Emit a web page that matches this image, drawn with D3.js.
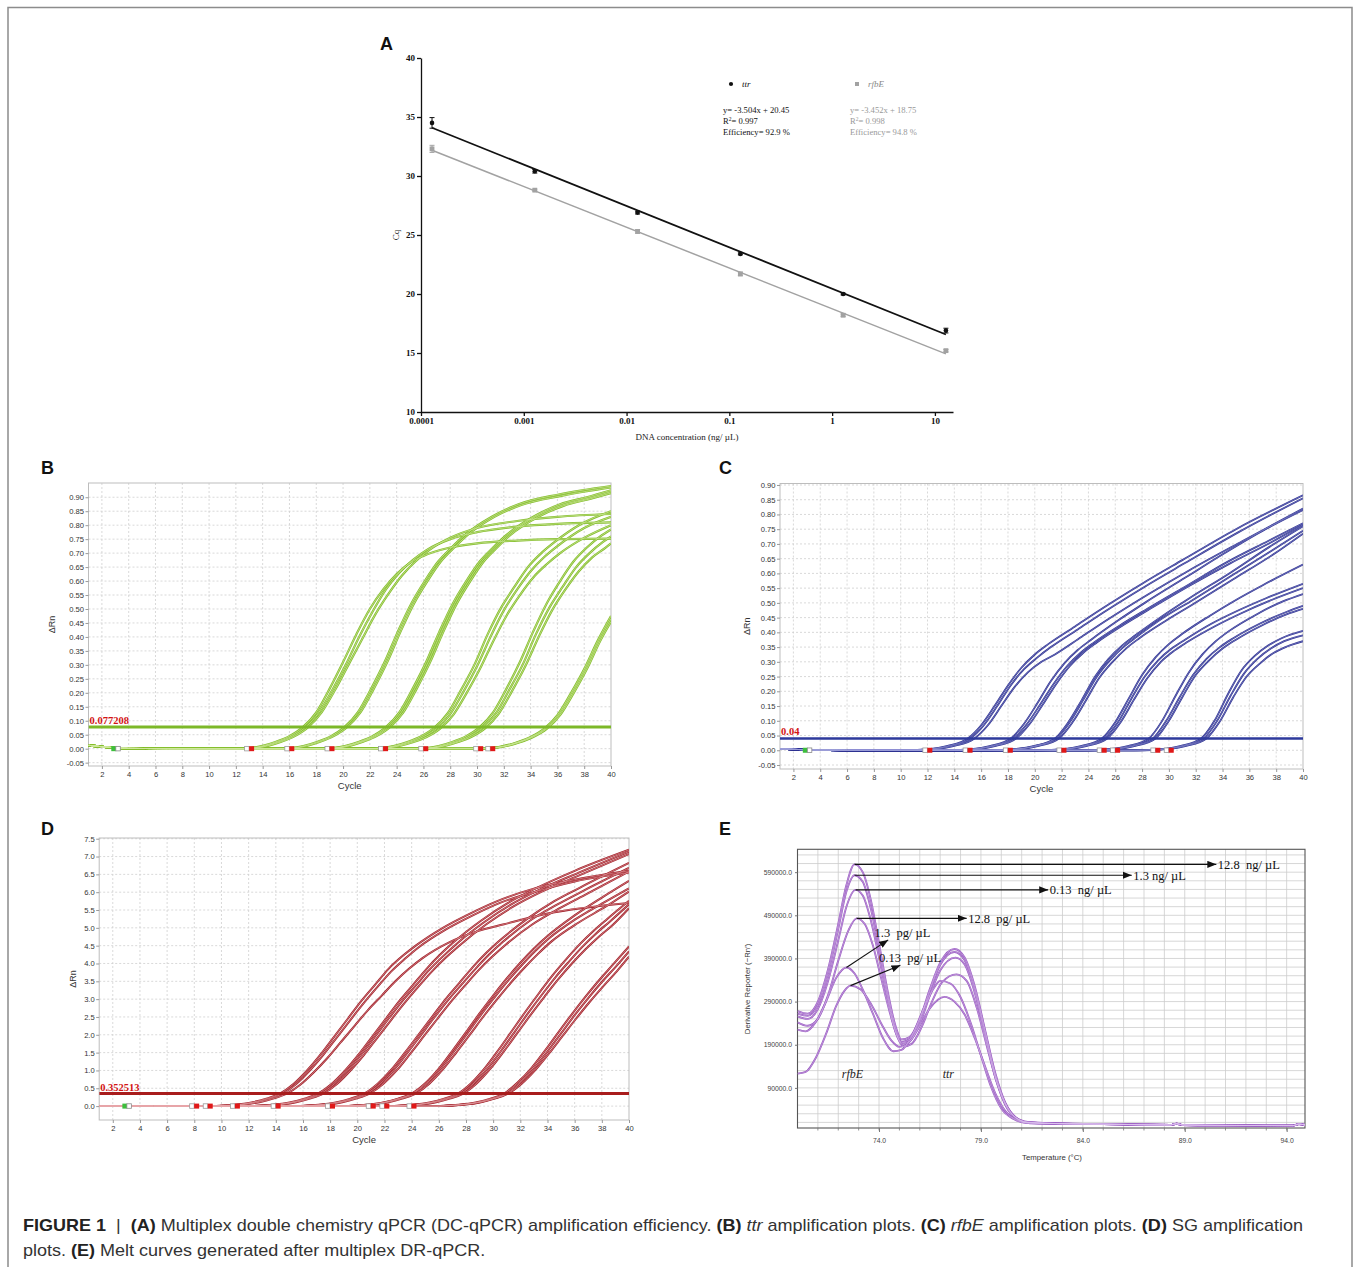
<!DOCTYPE html>
<html><head><meta charset="utf-8">
<script src="https://cdn.jsdelivr.net/npm/d3@7/dist/d3.min.js"></script>
<style>html,body{margin:0;padding:0;background:#fff;}svg{display:block;}</style>
</head><body>
<svg id="fig" width="1356" height="1267"></svg>
<script>
// ================= DATA =================
// ---- Panel A: standard curves ----
const concA = [0.000128, 0.00128, 0.0128, 0.128, 1.28, 12.8];
const cqTtr = [34.5, 30.4, 26.9, 23.4, 20.0, 16.9];
const sdTtr = [0.45, 0.15, 0.12, 0.08, 0.08, 0.2];
const cqRfbE = [32.3, 28.8, 25.3, 21.7, 18.2, 15.2];
const sdRfbE = [0.3, 0.08, 0.15, 0.15, 0.1, 0.1];
const fitSeries = ["ttr", "rfbE"];
const fitSlope = [-3.504, -3.452];
const fitIntercept = [20.45, 18.75];
const fitR2 = ["0.997", "0.998"];
const fitEff = ["92.9", "94.8"];
const aYTicks = [10, 15, 20, 25, 30, 35, 40];
const aXTicks = [0.0001, 0.001, 0.01, 0.1, 1, 10];
const aXTickLabels = ["0.0001", "0.001", "0.01", "0.1", "1", "10"];

// ---- Amplification plots (B, C, D) ----
const cycleTicks = [2,4,6,8,10,12,14,16,18,20,22,24,26,28,30,32,34,36,38,40];
const bcYTicks = [-0.05,0,0.05,0.1,0.15,0.2,0.25,0.3,0.35,0.4,0.45,0.5,0.55,0.6,0.65,0.7,0.75,0.8,0.85,0.9];
const dYTicks = [0,0.5,1,1.5,2,2.5,3,3.5,4,4.5,5,5.5,6,6.5,7,7.5];

const thrTtr = 0.077208, thrTtrLabel = "0.077208";
const thrRfbE = 0.04, thrRfbELabel = "0.04";
const thrSG = 0.352513, thrSGLabel = "0.352513";

const markersTtr = [13.1, 16.1, 19.1, 23.1, 26.1, 30.2, 31.1];
const markersRfbE = [12.1, 15.1, 18.1, 22.1, 25.1, 26.1, 29.1, 30.1];
const markersSG = [8.1, 9.1, 11.1, 14.1, 18.1, 21.1, 22.1, 24.1];
const markerGreen = 3;

// baselines before amplification  [cycle, dRn]
const baseTtr = [[1,0.012],[2,0.007],[4,0.001],[7,0]];
const baseRfbE = [[1,0.005],[2,0.003],[4,0.001],[6,0]];
const baseSG = [[1,0],[5,0]];

// B: ttr amplification curves [cycle, dRn]
const ttrCurves = [
 [[12,0],[13,0.002],[15,0.025],[16,0.045],[17,0.077],[18,0.13],[19,0.215],[20,0.31],[21,0.41],[22,0.5],[23,0.57],[24,0.625],[25,0.665],[26,0.69],[28,0.72],[30,0.735],[33,0.745],[36,0.75],[40,0.752]],
 [[12.2,0],[13.2,0.002],[15.2,0.025],[16.2,0.045],[17.2,0.077],[18.2,0.13],[19.2,0.21],[20.2,0.3],[21.2,0.4],[22.2,0.49],[23.2,0.57],[24.2,0.63],[25.2,0.675],[26.2,0.71],[28,0.75],[30,0.775],[33,0.795],[36,0.805],[40,0.81]],
 [[12.4,0],[13.4,0.002],[15.4,0.025],[16.4,0.045],[17.4,0.077],[18.4,0.13],[19.4,0.21],[20.4,0.3],[21.4,0.39],[22.4,0.48],[23.4,0.555],[24.4,0.62],[25.4,0.67],[26.4,0.71],[28,0.755],[30,0.79],[33,0.815],[36,0.83],[40,0.84]],
 [[15.1,0],[16.1,0.002],[18.1,0.025],[19.1,0.045],[20.1,0.077],[21.1,0.13],[22.1,0.215],[23.1,0.31],[24.1,0.42],[25.1,0.52],[26.1,0.6],[27.1,0.67],[28.1,0.72],[29.1,0.765],[31.1,0.83],[33.1,0.875],[36.1,0.91],[40,0.94]],
 [[15.3,0],[16.3,0.002],[18.3,0.025],[19.3,0.045],[20.3,0.077],[21.3,0.13],[22.3,0.215],[23.3,0.31],[24.3,0.42],[25.3,0.52],[26.3,0.6],[27.3,0.67],[28.3,0.72],[29.3,0.765],[31.3,0.83],[33.3,0.872],[36.3,0.905],[40,0.935]],
 [[18.2,0],[19.2,0.002],[21.2,0.025],[22.2,0.045],[23.2,0.077],[24.2,0.13],[25.2,0.215],[26.2,0.31],[27.2,0.42],[28.2,0.52],[29.2,0.6],[30.2,0.67],[31.2,0.72],[32.2,0.765],[34.2,0.83],[36.2,0.875],[38.2,0.9],[40,0.925]],
 [[18.35,0],[19.35,0.002],[21.35,0.025],[22.35,0.045],[23.35,0.077],[24.35,0.13],[25.35,0.215],[26.35,0.31],[27.35,0.42],[28.35,0.52],[29.35,0.6],[30.35,0.67],[31.35,0.72],[32.35,0.765],[34.35,0.83],[36.35,0.872],[38.35,0.897],[40,0.92]],
 [[18.5,0],[19.5,0.002],[21.5,0.025],[22.5,0.045],[23.5,0.077],[24.5,0.13],[25.5,0.215],[26.5,0.31],[27.5,0.42],[28.5,0.52],[29.5,0.6],[30.5,0.67],[31.5,0.72],[32.5,0.765],[34.5,0.828],[36.5,0.87],[38.5,0.895],[40,0.915]],
 [[21.8,0],[22.8,0.002],[24.8,0.024],[25.8,0.044],[26.8,0.075],[27.8,0.126],[28.8,0.21],[29.8,0.3],[30.8,0.41],[31.8,0.505],[32.8,0.58],[33.8,0.65],[34.8,0.7],[35.8,0.74],[37.8,0.805],[40,0.85]],
 [[22,0],[23,0.002],[25,0.024],[26,0.043],[27,0.073],[28,0.124],[29,0.205],[30,0.295],[31,0.4],[32,0.495],[33,0.57],[34,0.635],[35,0.685],[36,0.725],[38,0.79],[40,0.83]],
 [[22.2,0],[23.2,0.002],[25.2,0.023],[26.2,0.041],[27.2,0.07],[28.2,0.119],[29.2,0.197],[30.2,0.284],[31.2,0.384],[32.2,0.476],[33.2,0.55],[34.2,0.613],[35.2,0.66],[36.2,0.7],[38.2,0.76],[40,0.8]],
 [[25.2,0],[26.2,0.002],[28.2,0.025],[29.2,0.045],[30.2,0.077],[31.2,0.13],[32.2,0.215],[33.2,0.31],[34.2,0.42],[35.2,0.52],[36.2,0.6],[37.2,0.67],[38.2,0.72],[39.2,0.76],[40,0.785]],
 [[25.4,0],[26.4,0.002],[28.4,0.024],[29.4,0.044],[30.4,0.075],[31.4,0.126],[32.4,0.21],[33.4,0.3],[34.4,0.41],[35.4,0.505],[36.4,0.58],[37.4,0.65],[38.4,0.7],[39.4,0.74],[40,0.76]],
 [[25.6,0],[26.6,0.002],[28.6,0.024],[29.6,0.043],[30.6,0.073],[31.6,0.124],[32.6,0.205],[33.6,0.295],[34.6,0.4],[35.6,0.495],[36.6,0.57],[37.6,0.635],[38.6,0.685],[39.6,0.72],[40,0.735]],
 [[30,0],[31,0.002],[33,0.023],[34,0.042],[35,0.071],[36,0.12],[37,0.198],[38,0.285],[39,0.386],[40,0.475]],
 [[30.1,0],[31.1,0.002],[33.1,0.023],[34.1,0.042],[35.1,0.071],[36.1,0.12],[37.1,0.198],[38.1,0.285],[39.1,0.386],[40,0.465]],
 [[30.2,0],[31.2,0.002],[33.2,0.023],[34.2,0.042],[35.2,0.071],[36.2,0.12],[37.2,0.198],[38.2,0.285],[39.2,0.386],[40,0.455]]
];

// C: rfbE amplification curves [cycle, dRn]
const rfbECurves = [
 [[10,0],[12,0.004],[13.5,0.015],[15,0.04],[16,0.085],[17,0.15],[18,0.22],[19,0.28],[20,0.325],[21,0.36],[23,0.42],[25,0.48],[28,0.565],[31,0.645],[35,0.75],[40,0.865]],
 [[10.2,0],[12.2,0.004],[13.7,0.015],[15.2,0.04],[16.2,0.085],[17.2,0.15],[18.2,0.22],[19.2,0.275],[20.2,0.315],[21.2,0.35],[23.2,0.41],[25.2,0.47],[28.2,0.555],[31.2,0.635],[35.2,0.74],[40,0.855]],
 [[10.5,0],[12.5,0.004],[14,0.015],[15.5,0.04],[16.5,0.085],[17.5,0.15],[18.5,0.215],[19.5,0.265],[20.5,0.3],[21.5,0.325],[23.5,0.385],[25.5,0.445],[28.5,0.53],[31.5,0.61],[35.5,0.71],[40,0.82]],
 [[13.2,0],[15.2,0.004],[16.7,0.015],[18.2,0.04],[19.2,0.09],[20.2,0.16],[21.2,0.235],[22.2,0.295],[23.2,0.34],[24.2,0.375],[26.2,0.44],[28.2,0.5],[31.2,0.585],[34.2,0.67],[37.2,0.75],[40,0.815]],
 [[13.4,0],[15.4,0.004],[16.9,0.015],[18.4,0.04],[19.4,0.088],[20.4,0.155],[21.4,0.225],[22.4,0.285],[23.4,0.33],[24.4,0.365],[26.4,0.425],[28.4,0.48],[31.4,0.56],[34.4,0.64],[37.4,0.71],[40,0.77]],
 [[13.6,0],[15.6,0.004],[17.1,0.015],[18.6,0.04],[19.6,0.088],[20.6,0.155],[21.6,0.225],[22.6,0.285],[23.6,0.33],[24.6,0.365],[26.6,0.425],[28.6,0.48],[31.6,0.56],[34.6,0.635],[37.6,0.705],[40,0.765]],
 [[16.5,0],[18.5,0.004],[20,0.015],[21.5,0.04],[22.5,0.095],[23.5,0.17],[24.5,0.25],[25.5,0.31],[26.5,0.355],[27.5,0.39],[29.5,0.455],[31.5,0.515],[34.5,0.6],[37.5,0.69],[40,0.76]],
 [[16.6,0],[18.6,0.004],[20.1,0.015],[21.6,0.04],[22.6,0.095],[23.6,0.17],[24.6,0.248],[25.6,0.305],[26.6,0.35],[27.6,0.385],[29.6,0.45],[31.6,0.505],[34.6,0.59],[37.6,0.675],[40,0.745]],
 [[16.8,0],[18.8,0.004],[20.3,0.015],[21.8,0.04],[22.8,0.094],[23.8,0.168],[24.8,0.245],[25.8,0.3],[26.8,0.345],[27.8,0.38],[29.8,0.44],[31.8,0.495],[34.8,0.58],[37.8,0.665],[40,0.735]],
 [[20,0],[22,0.004],[23.5,0.015],[25,0.04],[26,0.095],[27,0.175],[28,0.255],[29,0.315],[30,0.36],[31,0.395],[33,0.455],[35,0.51],[37,0.56],[40,0.63]],
 [[20.2,0],[22.2,0.004],[23.7,0.015],[25.2,0.04],[26.2,0.095],[27.2,0.175],[28.2,0.25],[29.2,0.305],[30.2,0.345],[31.2,0.375],[33.2,0.43],[35.2,0.475],[37.2,0.515],[40,0.565]],
 [[20.4,0],[22.4,0.004],[23.9,0.015],[25.4,0.04],[26.4,0.095],[27.4,0.172],[28.4,0.245],[29.4,0.3],[30.4,0.338],[31.4,0.368],[33.4,0.42],[35.4,0.465],[37.4,0.505],[40,0.55]],
 [[23.5,0],[25.5,0.004],[27,0.015],[28.5,0.04],[29.5,0.1],[30.5,0.185],[31.5,0.265],[32.5,0.325],[33.5,0.37],[34.5,0.405],[36.5,0.46],[38.5,0.505],[40,0.53]],
 [[23.8,0],[25.8,0.004],[27.3,0.015],[28.8,0.04],[29.8,0.1],[30.8,0.18],[31.8,0.255],[32.8,0.31],[33.8,0.35],[34.8,0.38],[36.8,0.43],[38.8,0.47],[40,0.49]],
 [[24,0],[26,0.004],[27.5,0.015],[29,0.04],[30,0.1],[31,0.18],[32,0.255],[33,0.305],[34,0.345],[35,0.375],[37,0.425],[39,0.465],[40,0.48]],
 [[27.4,0],[29.4,0.004],[30.9,0.015],[32.4,0.04],[33.4,0.1],[34.4,0.19],[35.4,0.27],[36.4,0.32],[37.4,0.355],[38.4,0.38],[40,0.405]],
 [[27.6,0],[29.6,0.004],[31.1,0.015],[32.6,0.04],[33.6,0.1],[34.6,0.185],[35.6,0.26],[36.6,0.31],[37.6,0.345],[38.6,0.37],[40,0.39]],
 [[27.8,0],[29.8,0.004],[31.3,0.015],[32.8,0.04],[33.8,0.098],[34.8,0.18],[35.8,0.25],[36.8,0.295],[37.8,0.33],[38.8,0.352],[40,0.37]]
];

// D: SG amplification curves [cycle, dRn]
const sgCurves = [
 [[9.3,0],[10.3,0.02],[11.3,0.05],[12.3,0.11],[13.3,0.21],[14.3,0.35],[15.3,0.62],[16.3,1.0],[17.3,1.45],[18.3,1.95],[19.3,2.45],[20.3,2.95],[21.3,3.4],[22.3,3.85],[23.3,4.2],[24.3,4.5],[26.3,5.0],[28.3,5.4],[30.3,5.75],[33,6.1],[36,6.35],[40,6.6]],
 [[9.5,0],[10.5,0.02],[11.5,0.05],[12.5,0.11],[13.5,0.21],[14.5,0.35],[15.5,0.62],[16.5,1.0],[17.5,1.44],[18.5,1.93],[19.5,2.42],[20.5,2.9],[21.5,3.35],[22.5,3.78],[23.5,4.13],[24.5,4.45],[26.5,4.95],[28.5,5.35],[30.5,5.7],[33,6.0],[36,6.3],[40,6.55]],
 [[9.8,0],[10.8,0.02],[11.8,0.05],[12.8,0.11],[13.8,0.21],[14.8,0.35],[15.8,0.6],[16.8,0.95],[17.8,1.35],[18.8,1.8],[19.8,2.25],[20.8,2.7],[21.8,3.1],[22.8,3.5],[23.8,3.85],[24.8,4.15],[26.8,4.6],[28.8,4.9],[30.8,5.1],[34,5.4],[40,5.7]],
 [[12.1,0],[13.1,0.02],[14.1,0.05],[15.1,0.11],[16.1,0.21],[17.1,0.35],[18.1,0.62],[19.1,1.0],[20.1,1.45],[21.1,1.95],[22.1,2.45],[23.1,2.95],[24.1,3.4],[25.1,3.85],[26.1,4.25],[27.1,4.6],[29.1,5.2],[31.1,5.7],[33.1,6.1],[36,6.6],[40,7.19]],
 [[12.3,0],[13.3,0.02],[14.3,0.05],[15.3,0.11],[16.3,0.21],[17.3,0.35],[18.3,0.62],[19.3,1.0],[20.3,1.45],[21.3,1.95],[22.3,2.45],[23.3,2.94],[24.3,3.38],[25.3,3.82],[26.3,4.2],[27.3,4.55],[29.3,5.15],[31.3,5.65],[33.3,6.05],[36.3,6.55],[40,7.14]],
 [[12.5,0],[13.5,0.02],[14.5,0.05],[15.5,0.11],[16.5,0.21],[17.5,0.35],[18.5,0.62],[19.5,1.0],[20.5,1.44],[21.5,1.93],[22.5,2.42],[23.5,2.9],[24.5,3.35],[25.5,3.78],[26.5,4.16],[27.5,4.5],[29.5,5.1],[31.5,5.6],[33.5,6.0],[36.5,6.5],[40,7.07]],
 [[15.5,0],[16.5,0.02],[17.5,0.05],[18.5,0.11],[19.5,0.21],[20.5,0.35],[21.5,0.63],[22.5,1.02],[23.5,1.5],[24.5,2.0],[25.5,2.5],[26.5,3.0],[27.5,3.45],[28.5,3.9],[29.5,4.3],[30.5,4.65],[32.5,5.25],[34.5,5.75],[36.5,6.15],[40,6.82]],
 [[15.7,0],[16.7,0.02],[17.7,0.05],[18.7,0.11],[19.7,0.21],[20.7,0.35],[21.7,0.63],[22.7,1.02],[23.7,1.5],[24.7,2.0],[25.7,2.5],[26.7,2.98],[27.7,3.42],[28.7,3.85],[29.7,4.25],[30.7,4.6],[32.7,5.2],[34.7,5.65],[36.7,6.05],[40,6.68]],
 [[15.9,0],[16.9,0.02],[17.9,0.05],[18.9,0.11],[19.9,0.21],[20.9,0.35],[21.9,0.62],[22.9,1.0],[23.9,1.47],[24.9,1.96],[25.9,2.45],[26.9,2.93],[27.9,3.37],[28.9,3.8],[29.9,4.18],[30.9,4.52],[32.9,5.1],[34.9,5.55],[36.9,5.95],[40,6.58]],
 [[19,0],[20,0.02],[21,0.05],[22,0.11],[23,0.21],[24,0.35],[25,0.64],[26,1.05],[27,1.55],[28,2.07],[29,2.6],[30,3.1],[31,3.58],[32,4.02],[33,4.42],[34,4.77],[36,5.35],[38,5.85],[40,6.32]],
 [[19.1,0],[20.1,0.02],[21.1,0.05],[22.1,0.11],[23.1,0.21],[24.1,0.35],[25.1,0.64],[26.1,1.04],[27.1,1.53],[28.1,2.04],[29.1,2.56],[30.1,3.05],[31.1,3.52],[32.1,3.95],[33.1,4.35],[34.1,4.7],[36.1,5.25],[38.1,5.7],[40,6.11]],
 [[19.3,0],[20.3,0.02],[21.3,0.05],[22.3,0.11],[23.3,0.21],[24.3,0.35],[25.3,0.63],[26.3,1.03],[27.3,1.51],[28.3,2.01],[29.3,2.52],[30.3,3.0],[31.3,3.46],[32.3,3.88],[33.3,4.27],[34.3,4.62],[36.3,5.15],[38.3,5.6],[40,6.02]],
 [[22.4,0],[23.4,0.02],[24.4,0.05],[25.4,0.11],[26.4,0.21],[27.4,0.35],[28.4,0.65],[29.4,1.07],[30.4,1.58],[31.4,2.12],[32.4,2.66],[33.4,3.18],[34.4,3.68],[35.4,4.13],[36.4,4.55],[37.4,4.92],[38.4,5.25],[40,5.76]],
 [[22.6,0],[23.6,0.02],[24.6,0.05],[25.6,0.11],[26.6,0.21],[27.6,0.35],[28.6,0.65],[29.6,1.06],[30.6,1.56],[31.6,2.09],[32.6,2.62],[33.6,3.13],[34.6,3.62],[35.6,4.06],[36.6,4.48],[37.6,4.85],[38.6,5.18],[40,5.66]],
 [[22.8,0],[23.8,0.02],[24.8,0.05],[25.8,0.11],[26.8,0.21],[27.8,0.35],[28.8,0.64],[29.8,1.05],[30.8,1.54],[31.8,2.06],[32.8,2.58],[33.8,3.08],[34.8,3.56],[35.8,4.0],[36.8,4.4],[37.8,4.76],[38.8,5.08],[40,5.55]],
 [[25.8,0],[26.8,0.02],[27.8,0.05],[28.8,0.11],[29.8,0.21],[30.8,0.35],[31.8,0.66],[32.8,1.06],[33.8,1.55],[34.8,2.07],[35.8,2.58],[36.8,3.07],[37.8,3.53],[38.8,3.96],[40,4.48]],
 [[26,0],[27,0.02],[28,0.05],[29,0.11],[30,0.21],[31,0.35],[32,0.65],[33,1.05],[34,1.53],[35,2.04],[36,2.55],[37,3.03],[38,3.48],[39,3.9],[40,4.34]],
 [[26.1,0],[27.1,0.02],[28.1,0.05],[29.1,0.11],[30.1,0.21],[31.1,0.35],[32.1,0.63],[33.1,1.01],[34.1,1.47],[35.1,1.96],[36.1,2.45],[37.1,2.92],[38.1,3.36],[39.1,3.78],[40,4.19]]
];

// ---- Panel E: melt curves [temperature °C, derivative reporter (thousands)] ----
const meltTicksX = [74, 79, 84, 89, 94];
const meltTickLabelsX = ["74.0", "79.0", "84.0", "89.0", "94.0"];
const meltTicksY = [90, 190, 290, 390, 490, 590];
const meltTickLabelsY = ["90000.0", "190000.0", "290000.0", "390000.0", "490000.0", "590000.0"];
const meltTail = [[83,7],[85,6],[87,4.5],[88.3,4],[88.6,7],[88.9,4],[91,3],[94.3,2.5],[94.6,6],[94.9,4]];
const meltCurves = [
 [[70,268],[70.5,262],[71,290],[71.5,365],[72,470],[72.4,560],[72.8,608],[73.2,590],[73.6,525],[74,425],[74.4,320],[74.8,235],[75.1,202],[75.5,208],[76,250],[76.5,320],[77,380],[77.7,412],[78.2,392],[78.7,325],[79.2,225],[79.7,125],[80.2,55],[80.7,22],[81.3,11]],
 [[70,262],[70.5,257],[71,283],[71.5,355],[72,458],[72.4,545],[72.8,583],[73.2,568],[73.6,505],[74,410],[74.4,310],[74.8,228],[75.1,196],[75.5,203],[76,245],[76.5,315],[77,375],[77.7,405],[78.2,386],[78.7,318],[79.2,220],[79.7,120],[80.2,52],[80.7,21],[81.3,10]],
 [[70,256],[70.5,250],[71,273],[71.5,338],[72,432],[72.4,510],[72.85,549],[73.2,536],[73.6,478],[74,392],[74.4,300],[74.8,222],[75.15,192],[75.5,198],[76,238],[76.5,305],[77,362],[77.75,392],[78.2,376],[78.7,310],[79.2,212],[79.7,115],[80.2,50],[80.7,20],[81.3,10]],
 [[70,242],[70.5,234],[71,250],[71.5,305],[72,385],[72.5,455],[72.9,483],[73.3,470],[73.7,420],[74.1,345],[74.5,270],[74.9,208],[75.2,186],[75.6,192],[76.1,232],[76.6,290],[77.1,335],[77.8,353],[78.3,338],[78.8,275],[79.3,185],[79.8,100],[80.3,45],[80.8,18],[81.4,9]],
 [[70,225],[70.4,221],[70.9,243],[71.4,290],[71.9,345],[72.4,369],[72.8,355],[73.2,318],[73.7,262],[74.2,205],[74.7,175],[75.1,178],[75.6,210],[76.2,275],[76.7,322],[77,338],[77.5,332],[78,300],[78.5,240],[79,165],[79.5,92],[80,42],[80.6,18],[81.2,9]],
 [[70,123],[70.4,127],[70.9,160],[71.4,215],[71.9,280],[72.3,315],[72.6,327],[73.1,318],[73.6,285],[74.1,240],[74.6,200],[75,185],[75.4,192],[75.9,226],[76.5,275],[77.2,301],[77.7,290],[78.2,260],[78.7,205],[79.2,140],[79.7,78],[80.2,36],[80.8,15],[81.4,8]]
];
// concentration annotations: arrow start/end in data units (°C, thousands)
const meltAnnotations = [
 {from:[72.8,608], to:[90.55,608], label:"12.8  ng/ µL", side:"h"},
 {from:[72.8,583], to:[86.4,583], label:"1.3 ng/ µL", side:"h"},
 {from:[72.85,549], to:[82.3,549], label:"0.13  ng/ µL", side:"h"},
 {from:[72.9,483], to:[78.3,483], label:"12.8  pg/ µL", side:"h"},
 {from:[72.4,369], to:[74.45,433], label:"1.3  pg/ µL", side:"d", lx:73.78, ly:451},
 {from:[72.6,327], to:[75.05,374], label:"0.13  pg/ µL", side:"d", lx:74.0, ly:392}
];
const meltGeneLabels = [{t:"rfbE", x:72.7, y:113}, {t:"ttr", x:77.4, y:113}];

// ================= DRAW =================
const svg = d3.select("#fig");
svg.append("rect").attr("width",1356).attr("height",1267).attr("fill","#fff");
svg.append("path").attr("d","M8,1267V7.5H1352V1267").attr("fill","none").attr("stroke","#8c8c8c").attr("stroke-width",1.5);

const SANS = "Liberation Sans, Arial, Helvetica, sans-serif";
const SERIF = "Liberation Serif, Times New Roman, serif";

function panelLetter(t, x, y){
  svg.append("text").attr("x",x).attr("y",y).text(t)
    .attr("font-family",SANS).attr("font-weight","bold").attr("font-size",18).attr("fill","#111");
}
panelLetter("A",380,50); panelLetter("B",41,474); panelLetter("C",719,474); panelLetter("D",41,835); panelLetter("E",719,835);

// ---------- Panel A ----------
(function(){
  const g = svg.append("g");
  const ax = d3.scaleLog().domain([1e-4, 15]).range([421, 953]);
  const ay = d3.scaleLinear().domain([10, 40]).range([412, 58]);
  const ya = g.append("g").attr("transform","translate(421,0)")
    .call(d3.axisLeft(ay).tickValues(aYTicks).tickSize(4).tickSizeOuter(0).tickPadding(2));
  const xa = g.append("g").attr("transform","translate(0,412)")
    .call(d3.axisBottom(ax).tickValues(aXTicks).tickFormat((d,i)=>aXTickLabels[i]).tickSize(4).tickSizeOuter(0).tickPadding(2));
  [ya, xa].forEach(a=>{
    a.attr("font-family",SERIF).attr("font-size",9).attr("font-weight","bold");
    a.selectAll("path,line").attr("stroke","#111").attr("stroke-width",1.3);
    a.selectAll("text").attr("fill","#111");
  });
  g.append("text").attr("transform","translate(399,235) rotate(-90)").attr("text-anchor","middle")
    .attr("font-family",SERIF).attr("font-size",9).attr("fill","#222").text("Cq");
  g.append("text").attr("x",687).attr("y",440).attr("text-anchor","middle")
    .attr("font-family",SERIF).attr("font-size",9).attr("fill","#222").text("DNA concentration (ng/ µL)");

  const series = [
    {name:"ttr", cq:cqTtr, sd:sdTtr, color:"#111", shape:"circle", eqx:723, legx:731},
    {name:"rfbE", cq:cqRfbE, sd:sdRfbE, color:"#a2a2a2", shape:"square", eqx:850, legx:857}
  ];
  series.forEach((s,i)=>{
    const lx = [concA[0], concA[concA.length-1]];
    g.append("line")
      .attr("x1",ax(lx[0])).attr("y1",ay(fitSlope[i]*Math.log10(lx[0])+fitIntercept[i]))
      .attr("x2",ax(lx[1])).attr("y2",ay(fitSlope[i]*Math.log10(lx[1])+fitIntercept[i]))
      .attr("stroke",s.color).attr("stroke-width",i===0?1.8:1.5);
    concA.forEach((c,j)=>{
      const px = ax(c), py = ay(s.cq[j]);
      const y1 = ay(s.cq[j]+s.sd[j]), y2 = ay(s.cq[j]-s.sd[j]);
      g.append("line").attr("x1",px).attr("x2",px).attr("y1",y1).attr("y2",y2).attr("stroke",s.color).attr("stroke-width",1);
      [y1,y2].forEach(yy=>g.append("line").attr("x1",px-2.5).attr("x2",px+2.5).attr("y1",yy).attr("y2",yy).attr("stroke",s.color).attr("stroke-width",1));
      if(s.shape==="circle") g.append("circle").attr("cx",px).attr("cy",py).attr("r",2.3).attr("fill",s.color);
      else g.append("rect").attr("x",px-2.4).attr("y",py-2.4).attr("width",4.8).attr("height",4.8).attr("fill",s.color);
    });
    // legend
    if(s.shape==="circle") g.append("circle").attr("cx",s.legx).attr("cy",84).attr("r",2.1).attr("fill",s.color);
    else g.append("rect").attr("x",s.legx-2).attr("y",82).attr("width",4).attr("height",4).attr("fill",s.color);
    g.append("text").attr("x",s.legx+11).attr("y",87).attr("font-family",SERIF).attr("font-style","italic")
      .attr("font-size",9).attr("fill",i===0?"#111":"#888").text(s.name);
    const tc = i===0?"#111":"#999";
    const sl = fitSlope[i].toFixed(3).replace("-","-");
    g.append("text").attr("x",s.eqx).attr("y",112.5).attr("font-family",SERIF).attr("font-size",8.6).attr("fill",tc)
      .text("y= " + sl + "x + " + fitIntercept[i].toFixed(2));
    const r2 = g.append("text").attr("x",s.eqx).attr("y",124).attr("font-family",SERIF).attr("font-size",8.6).attr("fill",tc);
    r2.append("tspan").text("R");
    r2.append("tspan").attr("font-size",5.5).attr("dy",-3.5).text("2");
    r2.append("tspan").attr("dy",3.5).text("= " + fitR2[i]);
    g.append("text").attr("x",s.eqx).attr("y",135).attr("font-family",SERIF).attr("font-size",8.6).attr("fill",tc)
      .text("Efficiency= " + fitEff[i] + " %");
  });
})();

// ---------- Amplification panels ----------
function ampPanel(o){
  const g = svg.append("g");
  const x = d3.scaleLinear().domain([1,40]).range([o.left,o.right]);
  const y = d3.scaleLinear().domain(o.yDomain).range([o.bottom,o.top]);
  const clipId = o.id + "-clip";
  g.append("clipPath").attr("id",clipId).append("rect")
    .attr("x",o.left).attr("y",o.top).attr("width",o.right-o.left).attr("height",o.bottom-o.top);
  g.append("rect").attr("x",o.left).attr("y",o.top).attr("width",o.right-o.left).attr("height",o.bottom-o.top).attr("fill","#fff");
  // grid
  g.selectAll("line.vg").data(cycleTicks.filter(d=>d<40)).join("line").attr("class","vg")
    .attr("x1",d=>x(d)).attr("x2",d=>x(d)).attr("y1",o.top).attr("y2",o.bottom)
    .attr("stroke","#cfcfcf").attr("stroke-width",0.8).attr("stroke-dasharray","2,2");
  g.selectAll("line.hg").data(o.yTicks).join("line").attr("class","hg")
    .attr("x1",o.left).attr("x2",o.right).attr("y1",d=>y(d)).attr("y2",d=>y(d))
    .attr("stroke","#cfcfcf").attr("stroke-width",0.8).attr("stroke-dasharray","2,2");
  g.append("rect").attr("x",o.left).attr("y",o.top).attr("width",o.right-o.left).attr("height",o.bottom-o.top)
    .attr("fill","none").attr("stroke","#bdbdbd").attr("stroke-width",1);
  // axes
  const xa = g.append("g").attr("transform",`translate(0,${o.bottom})`)
    .call(d3.axisBottom(x).tickValues(cycleTicks).tickSize(3).tickSizeOuter(0).tickPadding(3));
  const ya = g.append("g").attr("transform",`translate(${o.left},0)`)
    .call(d3.axisLeft(y).tickValues(o.yTicks).tickFormat(d=>d.toFixed(o.dec)).tickSize(3).tickSizeOuter(0).tickPadding(1.5));
  [xa, ya].forEach(a=>{
    a.attr("font-family",SANS).attr("font-size",7.6);
    a.select(".domain").remove();
    a.selectAll("line").attr("stroke","#999");
    a.selectAll("text").attr("fill","#333");
  });
  g.append("text").attr("x",(o.left+o.right)/2).attr("y",o.bottom+23).attr("text-anchor","middle")
    .attr("font-family",SANS).attr("font-size",9.5).attr("fill","#333").text("Cycle");
  g.append("text").attr("transform",`translate(${o.ylabX},${(o.top+o.bottom)/2}) rotate(-90)`).attr("text-anchor","middle")
    .attr("font-family",SANS).attr("font-size",9).attr("fill","#333").text("ΔRn");
  // curves
  const line = d3.line().x(d=>x(d[0])).y(d=>y(d[1])).curve(d3.curveMonotoneX);
  const cg = g.append("g").attr("clip-path",`url(#${clipId})`);
  o.curves.forEach(c=>{
    const pts = o.base.concat(c);
    cg.append("path").attr("d",line(pts)).attr("fill","none").attr("stroke",o.outer).attr("stroke-width",o.ow);
  });
  o.curves.forEach(c=>{
    const pts = o.base.concat(c);
    cg.append("path").attr("d",line(pts)).attr("fill","none").attr("stroke",o.inner).attr("stroke-width",o.iw);
  });
  // threshold
  cg.append("line").attr("x1",o.left).attr("x2",o.right).attr("y1",y(o.thr)).attr("y2",y(o.thr))
    .attr("stroke",o.thrColor).attr("stroke-width",o.thrW);
  g.append("text").attr("x",o.left+1).attr("y",y(o.thr)-3).attr("font-family",SERIF).attr("font-weight","bold")
    .attr("font-size",10.5).attr("fill","#d21414").text(o.thrLabel);
  // markers at baseline
  const y0 = y(0);
  g.append("rect").attr("x",x(markerGreen)-4).attr("y",y0-2.5).attr("width",5).attr("height",5).attr("fill","#3cbf3c");
  g.append("rect").attr("x",x(markerGreen)+0.5).attr("y",y0-2.3).attr("width",4.5).attr("height",4.5).attr("fill","#fff").attr("stroke","#8a8a8a").attr("stroke-width",0.8);
  o.markers.forEach(m=>{
    g.append("rect").attr("x",x(m)-6).attr("y",y0-2.3).attr("width",4.5).attr("height",4.5).attr("fill","#fff").attr("stroke","#9a9a9a").attr("stroke-width",0.8);
    g.append("rect").attr("x",x(m)-1.5).attr("y",y0-2.5).attr("width",5).attr("height",5).attr("fill","#e01818");
  });
}

ampPanel({id:"B", left:88.5, right:611, top:483, bottom:766, yDomain:[-0.062,0.951], yTicks:bcYTicks, dec:2,
  ylabX:55, curves:ttrCurves, base:baseTtr, outer:"#84bd2c", ow:2.2, inner:"#cfe89c", iw:0.7,
  thr:thrTtr, thrLabel:thrTtrLabel, thrColor:"#7cb828", thrW:3, markers:markersTtr});
ampPanel({id:"C", left:780, right:1303, top:483.5, bottom:769, yDomain:[-0.0636,0.905], yTicks:bcYTicks, dec:2,
  ylabX:750, curves:rfbECurves, base:baseRfbE, outer:"#2d3190", ow:1.8, inner:"#9d9fd8", iw:0.5,
  thr:thrRfbE, thrLabel:thrRfbELabel, thrColor:"#2e3a9c", thrW:2.5, markers:markersRfbE});
ampPanel({id:"D", left:99.2, right:629, top:838, bottom:1120, yDomain:[-0.39,7.52], yTicks:dYTicks, dec:1,
  ylabX:76, curves:sgCurves, base:baseSG, outer:"#a01f28", ow:2, inner:"#e8a6aa", iw:0.6,
  thr:thrSG, thrLabel:thrSGLabel, thrColor:"#a81c1c", thrW:3, markers:markersSG});

// ---------- Panel E ----------
(function(){
  const g = svg.append("g");
  const L=797.5, R=1305, T=849.3, B=1128;
  const ex = d3.scaleLinear().domain([70,94.9]).range([L,R]);
  const ey = d3.scaleLinear().domain([-3,643]).range([B,T]);
  g.append("clipPath").attr("id","E-clip").append("rect").attr("x",L).attr("y",T).attr("width",R-L).attr("height",B-T);
  const gridY = d3.range(10, 640, 20);
  const gridX = d3.range(71, 95, 1);
  g.selectAll("line.hg").data(gridY).join("line").attr("class","hg")
    .attr("x1",L).attr("x2",R).attr("y1",d=>ey(d)).attr("y2",d=>ey(d)).attr("stroke","#cdcdcd").attr("stroke-width",0.8);
  g.selectAll("line.vg").data(gridX).join("line").attr("class","vg")
    .attr("x1",d=>ex(d)).attr("x2",d=>ex(d)).attr("y1",T).attr("y2",B).attr("stroke","#cdcdcd").attr("stroke-width",0.8);
  g.append("rect").attr("x",L).attr("y",T).attr("width",R-L).attr("height",B-T).attr("fill","none").attr("stroke","#555").attr("stroke-width",1.1);
  // x ticks
  g.selectAll("line.mt").data(gridX).join("line").attr("class","mt")
    .attr("x1",d=>ex(d)).attr("x2",d=>ex(d)).attr("y1",B).attr("y2",B+2.5).attr("stroke","#777").attr("stroke-width",0.8);
  const xa = g.append("g").attr("transform",`translate(0,${B})`)
    .call(d3.axisBottom(ex).tickValues(meltTicksX).tickFormat((d,i)=>meltTickLabelsX[i]).tickSize(4).tickSizeOuter(0).tickPadding(6));
  const ya = g.append("g").attr("transform",`translate(${L},0)`)
    .call(d3.axisLeft(ey).tickValues(meltTicksY).tickFormat((d,i)=>meltTickLabelsY[i]).tickSize(2.5).tickSizeOuter(0).tickPadding(3));
  [xa,ya].forEach(a=>{
    a.attr("font-family",SANS).attr("font-size",6.8);
    a.select(".domain").remove();
    a.selectAll("line").attr("stroke","#777");
    a.selectAll("text").attr("fill","#444");
  });
  g.append("text").attr("x",1052).attr("y",1160).attr("text-anchor","middle").attr("font-family",SANS)
    .attr("font-size",7.8).attr("fill","#333").text("Temperature (°C)");
  g.append("text").attr("transform",`translate(750,989) rotate(-90)`).attr("text-anchor","middle").attr("font-family",SANS)
    .attr("font-size",7.8).attr("fill","#333").text("Derivative Reporter (−Rn′)");
  // curves
  const line = d3.line().x(d=>ex(d[0])).y(d=>ey(d[1])).curve(d3.curveMonotoneX);
  const cg = g.append("g").attr("clip-path","url(#E-clip)");
  meltCurves.forEach(c=>cg.append("path").attr("d",line(c.concat(meltTail))).attr("fill","none").attr("stroke","#9a5cc2").attr("stroke-width",1.9));
  meltCurves.forEach(c=>cg.append("path").attr("d",line(c.concat(meltTail))).attr("fill","none").attr("stroke","#dcc3ef").attr("stroke-width",0.5));
  // arrows
  const defs = svg.append("defs");
  defs.append("marker").attr("id","arrowE").attr("viewBox","0 0 10 8").attr("refX",10).attr("refY",4)
    .attr("markerUnits","userSpaceOnUse").attr("markerWidth",9).attr("markerHeight",7.5).attr("orient","auto")
    .append("path").attr("d","M0,0L10,4L0,8z").attr("fill","#111");
  meltAnnotations.forEach(a=>{
    g.append("line").attr("x1",ex(a.from[0])).attr("y1",ey(a.from[1])).attr("x2",ex(a.to[0])).attr("y2",ey(a.to[1]))
      .attr("stroke","#111").attr("stroke-width",1.1).attr("marker-end","url(#arrowE)");
    const tx = a.side==="h" ? ex(a.to[0])+1.5 : ex(a.lx);
    const ty = a.side==="h" ? ey(a.to[1]) : ey(a.ly);
    g.append("text").attr("x",tx).attr("y",ty).attr("dy","0.36em").attr("font-family",SERIF)
      .attr("font-size",12.5).attr("fill","#111").attr("xml:space","preserve").style("white-space","pre").text(a.label);
  });
  meltGeneLabels.forEach(l=>{
    g.append("text").attr("x",ex(l.x)).attr("y",ey(l.y)).attr("text-anchor","middle").attr("font-family",SERIF)
      .attr("font-style","italic").attr("font-size",12).attr("fill","#222").text(l.t);
  });
})();

// ---------- Caption ----------
(function(){
  const line1 = [
    {t:"FIGURE 1", b:1}, {t:"  |  "}, {t:"(A)", b:1}, {t:" Multiplex double chemistry qPCR (DC-qPCR) amplification efficiency. "},
    {t:"(B)", b:1}, {t:" "}, {t:"ttr", i:1}, {t:" amplification plots. "}, {t:"(C)", b:1}, {t:" "}, {t:"rfbE", i:1},
    {t:" amplification plots. "}, {t:"(D)", b:1}, {t:" SG amplification"}
  ];
  const line2 = [{t:"plots. "}, {t:"(E)", b:1}, {t:" Melt curves generated after multiplex DR-qPCR."}];
  function write(parts, y){
    const t = svg.append("text").attr("x",23).attr("y",y).attr("font-family",SANS).attr("font-size",17)
      .attr("fill","#333").style("white-space","pre");
    parts.forEach(p=>{
      const s = t.append("tspan").text(p.t);
      if(p.b) s.attr("font-weight","bold").attr("fill","#222");
      if(p.i) s.attr("font-style","italic");
    });
    return t;
  }
  const t1 = write(line1, 1231);
  const t2 = write(line2, 1256);
  const w1 = t1.node().getComputedTextLength();
  const w2 = t2.node().getComputedTextLength();
  const k = 1280 / w1;
  t1.attr("textLength",1280).attr("lengthAdjust","spacingAndGlyphs");
  t2.attr("textLength",w2*k).attr("lengthAdjust","spacingAndGlyphs");
})();
</script>
</body></html>
